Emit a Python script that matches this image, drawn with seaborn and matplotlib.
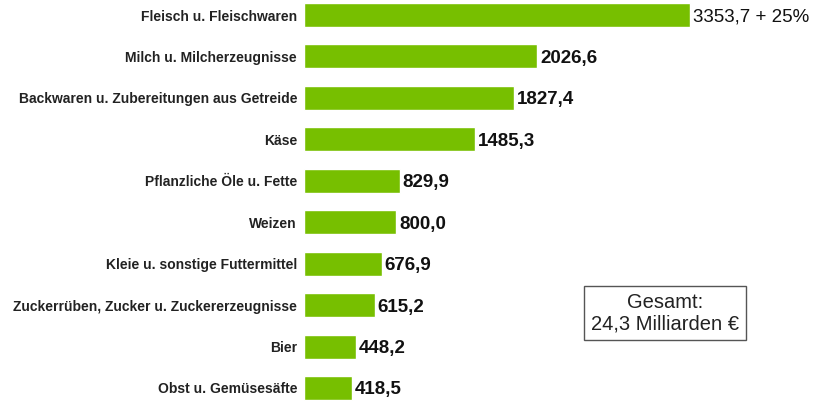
import pandas as pd
import matplotlib.pyplot as plt
import seaborn as sns

# Daten (Werte in Mio. €)
kategorien = [
    "Fleisch u. Fleischwaren",
    "Milch u. Milcherzeugnisse",
    "Backwaren u. Zubereitungen aus Getreide",
    "Käse",
    "Pflanzliche Öle u. Fette",
    "Weizen",
    "Kleie u. sonstige Futtermittel",
    "Zuckerrüben, Zucker u. Zuckererzeugnisse",
    "Bier",
    "Obst u. Gemüsesäfte",
]
werte = [3353.7, 2026.6, 1827.4, 1485.3, 829.9, 800.0, 676.9, 615.2, 448.2, 418.5]
zusatz_erster = " + 25%"
gesamt_text = "Gesamt:\n24,3 Milliarden €"

sns.set_style("white")
plt.rcParams['font.family'] = ['Liberation Sans', 'DejaVu Sans']

df = pd.DataFrame({"kategorie": kategorien, "wert": werte})

fig = plt.figure(figsize=(8.17, 4.01), dpi=100)
ax = fig.add_axes([304 / 817, 0, 1 - 304 / 817, 1])

sns.barplot(data=df, y="kategorie", x="wert", orient="h", color="#77bf00",
            saturation=1, width=0.58, ax=ax)

ax.set_xlim(0, 4457)
ax.set_ylim(9.314, -0.362)
sns.despine(ax=ax, left=True, bottom=True)
ax.set_xticks([])
ax.set_xlabel("")
ax.set_ylabel("")
ax.tick_params(axis="y", length=0, pad=5)
for lbl in ax.get_yticklabels():
    lbl.set_fontweight("bold")
    lbl.set_fontsize(10)
    lbl.set_color("#222222")

# Wertebeschriftung
for i, v in enumerate(werte):
    txt = f"{v:.1f}".replace(".", ",")
    if i == 0:
        ax.text(v + 25, i, txt + zusatz_erster, va="center_baseline", ha="left",
                fontsize=13.5, color="#111111")
    else:
        ax.text(v + 25, i, txt, va="center_baseline", ha="left",
                fontsize=13.5, fontweight="bold", color="#111111")

# Gesamt-Box
fig.text(665 / 817, 1 - 313 / 401, gesamt_text, ha="center", va="center",
         fontsize=14.5, linespacing=1.15, color="#222222",
         bbox=dict(boxstyle="square,pad=0.35", facecolor="white",
                   edgecolor="#555555", linewidth=1))

fig.savefig("out.png", dpi=100)
